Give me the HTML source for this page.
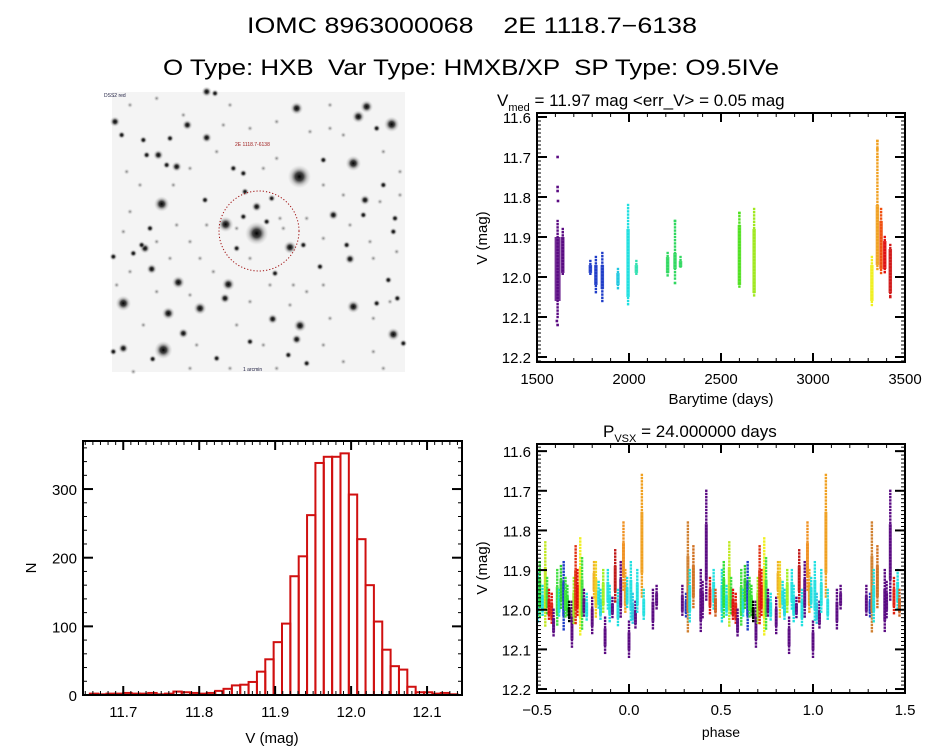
<!DOCTYPE html>
<html><head><meta charset="utf-8"><style>
html,body{margin:0;padding:0;background:#fff;}
svg{display:block;font-family:"Liberation Sans",sans-serif;}
text{white-space:pre;}
</style></head><body>
<svg id="fig" width="944" height="747" viewBox="0 0 944 747" xmlns="http://www.w3.org/2000/svg" xml:space="preserve">
<defs>
<radialGradient id="star"><stop offset="0" stop-color="#000"/><stop offset="0.35" stop-color="#222" stop-opacity="0.85"/><stop offset="0.7" stop-color="#888" stop-opacity="0.35"/><stop offset="1" stop-color="#bbb" stop-opacity="0"/></radialGradient>
<radialGradient id="faint"><stop offset="0" stop-color="#666" stop-opacity="0.8"/><stop offset="1" stop-color="#ccc" stop-opacity="0"/></radialGradient>
</defs>
<text x="472" y="33" font-size="22" text-anchor="middle" textLength="450" lengthAdjust="spacingAndGlyphs">IOMC 8963000068    2E 1118.7−6138</text>
<text x="471" y="75" font-size="22" text-anchor="middle" textLength="616" lengthAdjust="spacingAndGlyphs">O Type: HXB  Var Type: HMXB/XP  SP Type: O9.5IVe</text>
<g id="img"></g>
<g id="lc"></g>
<g id="hist"></g>
<g id="ph"></g>
</svg>
<script>
// ---------- data ----------
const lcTime  = [1612,1640,1790,1820,1855,1940,1995,2040,2210,2250,2280,2600,2680,3320,3350,3370,3390,3420];
const lcLow   = [11.86,11.88,11.96,11.95,11.94,11.98,11.82,11.96,11.94,11.86,11.95,11.84,11.83,11.95,11.66,11.83,11.90,11.92];
const lcHigh  = [12.10,12.00,12.00,12.04,12.06,12.03,12.07,12.00,12.00,12.01,11.98,12.03,12.05,12.07,11.98,11.99,11.99,12.05];
const lcCore0 = [11.90,11.90,11.97,11.97,11.97,11.99,11.88,11.97,11.95,11.94,11.96,11.87,11.88,11.97,11.82,11.86,11.91,11.93];
const lcCore1 = [12.06,11.99,11.99,12.02,12.03,12.02,12.05,11.99,11.99,11.98,11.975,12.02,12.04,12.06,11.97,11.98,11.98,12.04];
const lcColor = ["#5a0a82","#5a0a82","#1e3cc8","#1e3cc8","#1e3cc8","#20c8e0","#20e0e0","#30e0b0","#30d860","#30d860","#30d860","#50e020","#a0e820","#f0f020","#f0a020","#f05010","#e01010","#d01818"];
const outT = [1612,1612,1612,1614,1612,1608,2250,2250,2600,3350,3350,3350,3420];
const outV = [11.70,11.775,11.785,11.81,12.12,12.11,11.86,12.015,11.84,11.66,11.68,11.70,12.05];
const outC = ["#5a0a82","#5a0a82","#5a0a82","#5a0a82","#5a0a82","#5a0a82","#30d860","#30d860","#50e020","#f0a020","#f0a020","#f0a020","#d01818"];
const hStart = 11.656, hBin = 0.011;
const hCounts = [2,1,2,2,3,2,2,3,1,2,5,4,3,2,3,6,9,14,15,19,34,52,77,104,173,202,262,338,347,347,352,292,227,160,107,66,42,37,12,4,4,2,3,1];
const phPhase = [0.505,0.515,0.53,0.545,0.555,0.565,0.58,0.59,0.61,0.62,0.63,0.645,0.655,0.665,0.675,0.69,0.70,0.71,0.72,0.735,0.745,0.755,0.77,0.80,0.81,0.82,0.835,0.845,0.86,0.87,0.885,0.895,0.91,0.925,0.94,0.955,0.97,0.98,0.99,0.00,0.01,0.02,0.035,0.045,0.07,0.08,0.13,0.15,0.29,0.31,0.32,0.33,0.35,0.39,0.40,0.42,0.44,0.46,0.47];
const phLow   = [11.90,11.88,11.94,11.83,11.92,11.95,11.96,12.00,11.90,11.95,11.89,11.88,11.92,11.94,11.98,11.98,11.92,11.84,11.90,11.82,11.87,11.95,11.96,11.97,11.88,11.88,11.93,11.95,11.90,12.02,11.90,11.94,11.97,11.85,11.95,11.88,11.78,11.90,11.92,12.03,11.88,11.96,11.98,11.90,11.66,11.95,11.95,11.94,11.94,11.96,11.78,11.90,11.84,11.90,11.93,11.70,11.92,11.90,11.95];
const phHigh  = [12.03,12.02,12.02,12.04,12.01,12.03,12.04,12.07,12.04,12.02,12.00,12.05,12.02,12.02,12.03,12.10,12.04,12.04,12.02,12.07,12.05,12.02,12.03,12.06,11.97,12.02,12.00,12.03,12.01,12.11,12.00,12.03,12.02,11.98,12.04,12.02,11.95,12.01,12.00,12.12,12.03,12.04,12.05,12.01,11.97,12.03,12.05,12.00,12.02,12.02,12.06,12.03,12.00,12.06,12.02,11.98,12.01,12.00,12.02];
const phColor = ["#20d8e0","#30e030","#20e0e0","#c0e820","#40e040","#e01010","#e02010","#5a0a82","#40e040","#20e0e0","#30d030","#1e3cc8","#40e040","#30e030","#000000","#5a0a82","#a0f020","#e03010","#e01010","#f0f020","#40e040","#5a0a82","#20e0e0","#5a0a82","#f0b020","#f0d020","#20e0e0","#20d8e0","#a0f020","#5a0a82","#20e0e0","#20e0e0","#5a0a82","#c01818","#20e0e0","#5a0a82","#f09020","#f0a020","#20e0e0","#5a0a82","#20e0e0","#30c8e0","#5a0a82","#20e0e0","#f0a020","#20e0e0","#5a0a82","#5a0a82","#5a0a82","#1e3cc8","#d08030","#20e0e0","#d07020","#5a0a82","#5a0a82","#5a0a82","#e02010","#20e0e0","#d06020"];
const stars = [[628,275,9],[500,445,9],[220,795,7],[905,118,6],[790,235,6],[620,70,5],[805,95,5],[830,65,5],[215,357,6],[407,418,6],[600,487,5],[415,598,5],[100,655,6],[330,670,5],[235,685,5],[790,665,5],[910,748,5],[548,702,4],[630,722,5],[620,763,4],[265,592,5],[780,522,4],[825,345,4],[730,390,4],[292,120,4],[350,158,4],[205,210,4],[165,490,4],[185,552,4],[405,640,4],[280,745,4],[100,790,4],[188,822,3],[75,110,4],[95,150,3],[910,440,3],[880,300,3],[915,400,3],[770,480,3],[460,265,3],[545,340,3],[500,365,4],[465,320,3],[345,345,3],[895,585,3],[860,655,3],[650,835,3],[595,810,3],[480,770,3],[922,640,3],[700,225,3],[240,160,3],[160,165,3],[155,480,3],[130,505,3],[70,515,3],[180,430,3],[460,395,3],[530,410,3],[440,490,3],[260,245,4],[230,240,3],[170,210,3],[350,20,4],[375,25,3],[70,800,3],[940,775,3],[380,820,3],[430,250,3],[690,545,3],[640,480,3],[555,565,3],[820,390,3],[860,130,3]];
const faint = [[120,60],[200,40],[280,90],[420,60],[480,130],[560,110],[660,140],[720,60],[760,150],[880,200],[930,260],[110,260],[150,300],[250,300],[300,250],[380,200],[560,220],[700,300],[760,330],[870,350],[930,330],[120,380],[260,420],[300,470],[330,520],[370,560],[480,520],[540,600],[650,620],[700,600],[850,520],[920,500],[120,560],[80,600],[200,620],[300,630],[480,650],[600,660],[720,700],[850,700],[900,650],[160,720],[320,780],[440,720],[520,780],[700,780],[760,830],[850,800],[130,860],[300,850],[420,850],[560,850],[880,850],[610,600],[350,420],[580,430],[570,400],[440,430],[650,400],[700,460],[200,470],[240,520],[100,440],[780,420],[840,470],[520,250],[400,120],[720,130]];

// ---------- helpers ----------
const NS="http://www.w3.org/2000/svg";
function el(tag,attrs,parent){const e=document.createElementNS(NS,tag);for(const k in attrs)e.setAttribute(k,attrs[k]);parent.appendChild(e);return e;}
function scale(d0,d1,p0,p1){return v=>p0+(v-d0)/(d1-d0)*(p1-p0);}
function frame(g,x0,y0,x1,y1){
  const r=el('rect',{x:x0,y:y0,width:x1-x0,height:y1-y0,fill:'none',stroke:'#000','stroke-width':2},g);
  
  
}
function xTicks(g,sx,y0,y1,majors,minStep,dmin,dmax,labels,fs){
  for(let v=Math.ceil(dmin/minStep-1e-6)*minStep;v<=dmax+1e-9;v+=minStep){
    const x=sx(v);el('line',{x1:x,x2:x,y1:y1,y2:y1-4,stroke:'#000','stroke-width':1},g);el('line',{x1:x,x2:x,y1:y0,y2:y0+4,stroke:'#000','stroke-width':1},g);}
  majors.forEach((v,i)=>{const x=sx(v);
    el('line',{x1:x,x2:x,y1:y1,y2:y1-9,stroke:'#000','stroke-width':2},g);el('line',{x1:x,x2:x,y1:y0,y2:y0+9,stroke:'#000','stroke-width':2},g);
    const t=el('text',{x:x,y:y1+22,'font-size':fs,'text-anchor':'middle'},g);t.textContent=labels[i];
    
    });
}
function yTicks(g,sy,x0,x1,majors,minStep,dmin,dmax,labels,fs){
  for(let v=Math.ceil(dmin/minStep-1e-6)*minStep;v<=dmax+1e-9;v+=minStep){
    const y=sy(v);el('line',{x1:x0,x2:x0+4,y1:y,y2:y,stroke:'#000','stroke-width':1},g);el('line',{x1:x1,x2:x1-4,y1:y,y2:y,stroke:'#000','stroke-width':1},g);}
  majors.forEach((v,i)=>{const y=sy(v);
    el('line',{x1:x0,x2:x0+10,y1:y,y2:y,stroke:'#000','stroke-width':2},g);el('line',{x1:x1,x2:x1-10,y1:y,y2:y,stroke:'#000','stroke-width':2},g);
    const t=el('text',{x:x0-6,y:y+6,'font-size':fs,'text-anchor':'end'},g);t.textContent=labels[i];
    
    });
}
function label(g,x,y,txt,fs,rot,name){
  const t=el('text',{x:x,y:y,'font-size':fs,'text-anchor':'middle'},g);
  if(rot)t.setAttribute('transform',`rotate(-90 ${x} ${y})`);
  t.textContent=txt;
  
  
  return t;
}
function strip(g,x,ylo,yhi,ycore0,ycore1,color,w){
  el('rect',{x:x-w/2,y:ycore0,width:w,height:Math.max(1,ycore1-ycore0),fill:color,'fill-opacity':0.85},g);
  for(let y=ylo;y<=yhi;y+=3.2){el('rect',{x:x-1.2,y:y-1.2,width:2.4,height:2.4,fill:color},g);}
}

// ---------- sky image ----------
(function(){
  const g=document.getElementById('img');
  const bg=el('rect',{x:112,y:92,width:293,height:280,fill:'#f4f4f4'},g);
  
  
  faint.forEach(s=>{
    const c=el('circle',{cx:90+s[0]/3,cy:85+s[1]/3,r:3,fill:'url(#faint)'},g);
    
    
  });
  stars.forEach(s=>{
    const c=el('circle',{cx:90+s[0]/3,cy:85+s[1]/3,r:s[2]*1.3,fill:'url(#star)'},g);
    
    
  });
  const c=el('circle',{cx:259,cy:231,r:40,fill:'none',stroke:'#a01010','stroke-width':1,'stroke-dasharray':'1.2 2'},g);
  
  
  const t1=el('text',{x:104,y:97,'font-size':5,fill:'#224'},g);t1.textContent='DSS2 red';
  
  
  const t2=el('text',{x:235,y:146,'font-size':5,fill:'#a02020'},g);t2.textContent='2E 1118.7-6138';
  
  
  const t3=el('text',{x:243,y:371,'font-size':5,fill:'#224'},g);t3.textContent='1 arcmin';
  
  
})();

// ---------- light curve ----------
(function(){
  const g=document.getElementById('lc');
  const X0=537,X1=905,Y0=113,Y1=362;
  const sx=scale(1500,3500,X0,X1), sy=scale(11.59,12.2125,Y0,Y1);
  lcTime.forEach((t,i)=>{
    const s=el('g',{},g);
    
    
    strip(s,sx(t),sy(lcLow[i]),sy(lcHigh[i]),sy(lcCore0[i]),sy(lcCore1[i]),lcColor[i],i===0?6:3.5);
  });
  outT.forEach((t,i)=>{
    const p=el('rect',{x:sx(t)-1.3,y:sy(outV[i])-1.3,width:2.6,height:2.6,fill:outC[i]},g);
    
    
  });
  frame(g,X0,Y0,X1,Y1);
  xTicks(g,sx,Y0,Y1,[1500,2000,2500,3000,3500],100,1500,3500,['1500','2000','2500','3000','3500'],15);
  yTicks(g,sy,X0,X1,[11.6,11.7,11.8,11.9,12.0,12.1,12.2],0.01,11.59,12.21,['11.6','11.7','11.8','11.9','12.0','12.1','12.2'],15);
  label(g,721,404,'Barytime (days)',15,false,'x-axis-title');
  label(g,487,238,'V (mag)',15,true,'y-axis-title');
  const t=el('text',{x:497,y:106,'font-size':17},g);
  
  
  t.innerHTML='V<tspan font-size="11" dy="5">med</tspan><tspan dy="-5"> = 11.97 mag &lt;err_V&gt; = 0.05 mag</tspan>';
})();

// ---------- histogram ----------
(function(){
  const g=document.getElementById('hist');
  const X0=83,X1=462,Y0=441,Y1=695;
  const sx=scale(11.647,12.146,X0,X1), sy=scale(0,370,Y1,Y0);
  hCounts.forEach((c,i)=>{
    const a=hStart+i*hBin;
    const b=el('rect',{x:sx(a),y:sy(c),width:sx(a+hBin)-sx(a),height:Math.max(0.5,sy(0)-sy(c)),fill:'none',stroke:'#d01010','stroke-width':2},g);
    
    
  });
  frame(g,X0,Y0,X1,Y1);
  xTicks(g,sx,Y0,Y1,[11.7,11.8,11.9,12.0,12.1],0.01,11.65,12.146,['11.7','11.8','11.9','12.0','12.1'],15);
  yTicks(g,sy,X0,X1,[0,100,200,300],20,0,370,['0','100','200','300'],15);
  label(g,272,743,'V (mag)',15,false,'x-axis-title');
  label(g,36,568,'N',15,true,'y-axis-title');
})();

// ---------- phased ----------
(function(){
  const g=document.getElementById('ph');
  const X0=537,X1=905,Y0=444,Y1=693;
  const sx=scale(-0.5,1.5,X0,X1), sy=scale(11.582,12.21,Y0,Y1);
  [-1,0,1].forEach(k=>{
    phPhase.forEach((p,i)=>{
      const ph=p+k; if(ph<-0.5||ph>1.5)return;
      const s=el('g',{},g);
      
      
      const lo=sy(phLow[i]),hi=sy(phHigh[i]);
      strip(s,sx(ph),lo,hi,lo+(hi-lo)*0.3,hi-(hi-lo)*0.2,phColor[i],3);
    });
  });
  frame(g,X0,Y0,X1,Y1);
  xTicks(g,sx,Y0,Y1,[-0.5,0,0.5,1.0,1.5],0.1,-0.5,1.5,['−0.5','0.0','0.5','1.0','1.5'],15);
  yTicks(g,sy,X0,X1,[11.6,11.7,11.8,11.9,12.0,12.1,12.2],0.01,11.582,12.21,['11.6','11.7','11.8','11.9','12.0','12.1','12.2'],15);
  label(g,721,737,'phase',14,false,'x-axis-title');
  label(g,487,568,'V (mag)',15,true,'y-axis-title');
  const t=el('text',{x:603,y:437,'font-size':17},g);
  
  
  t.innerHTML='P<tspan font-size="11" dy="5">VSX</tspan><tspan dy="-5"> = 24.000000 days</tspan>';
})();
</script>
</body></html>
